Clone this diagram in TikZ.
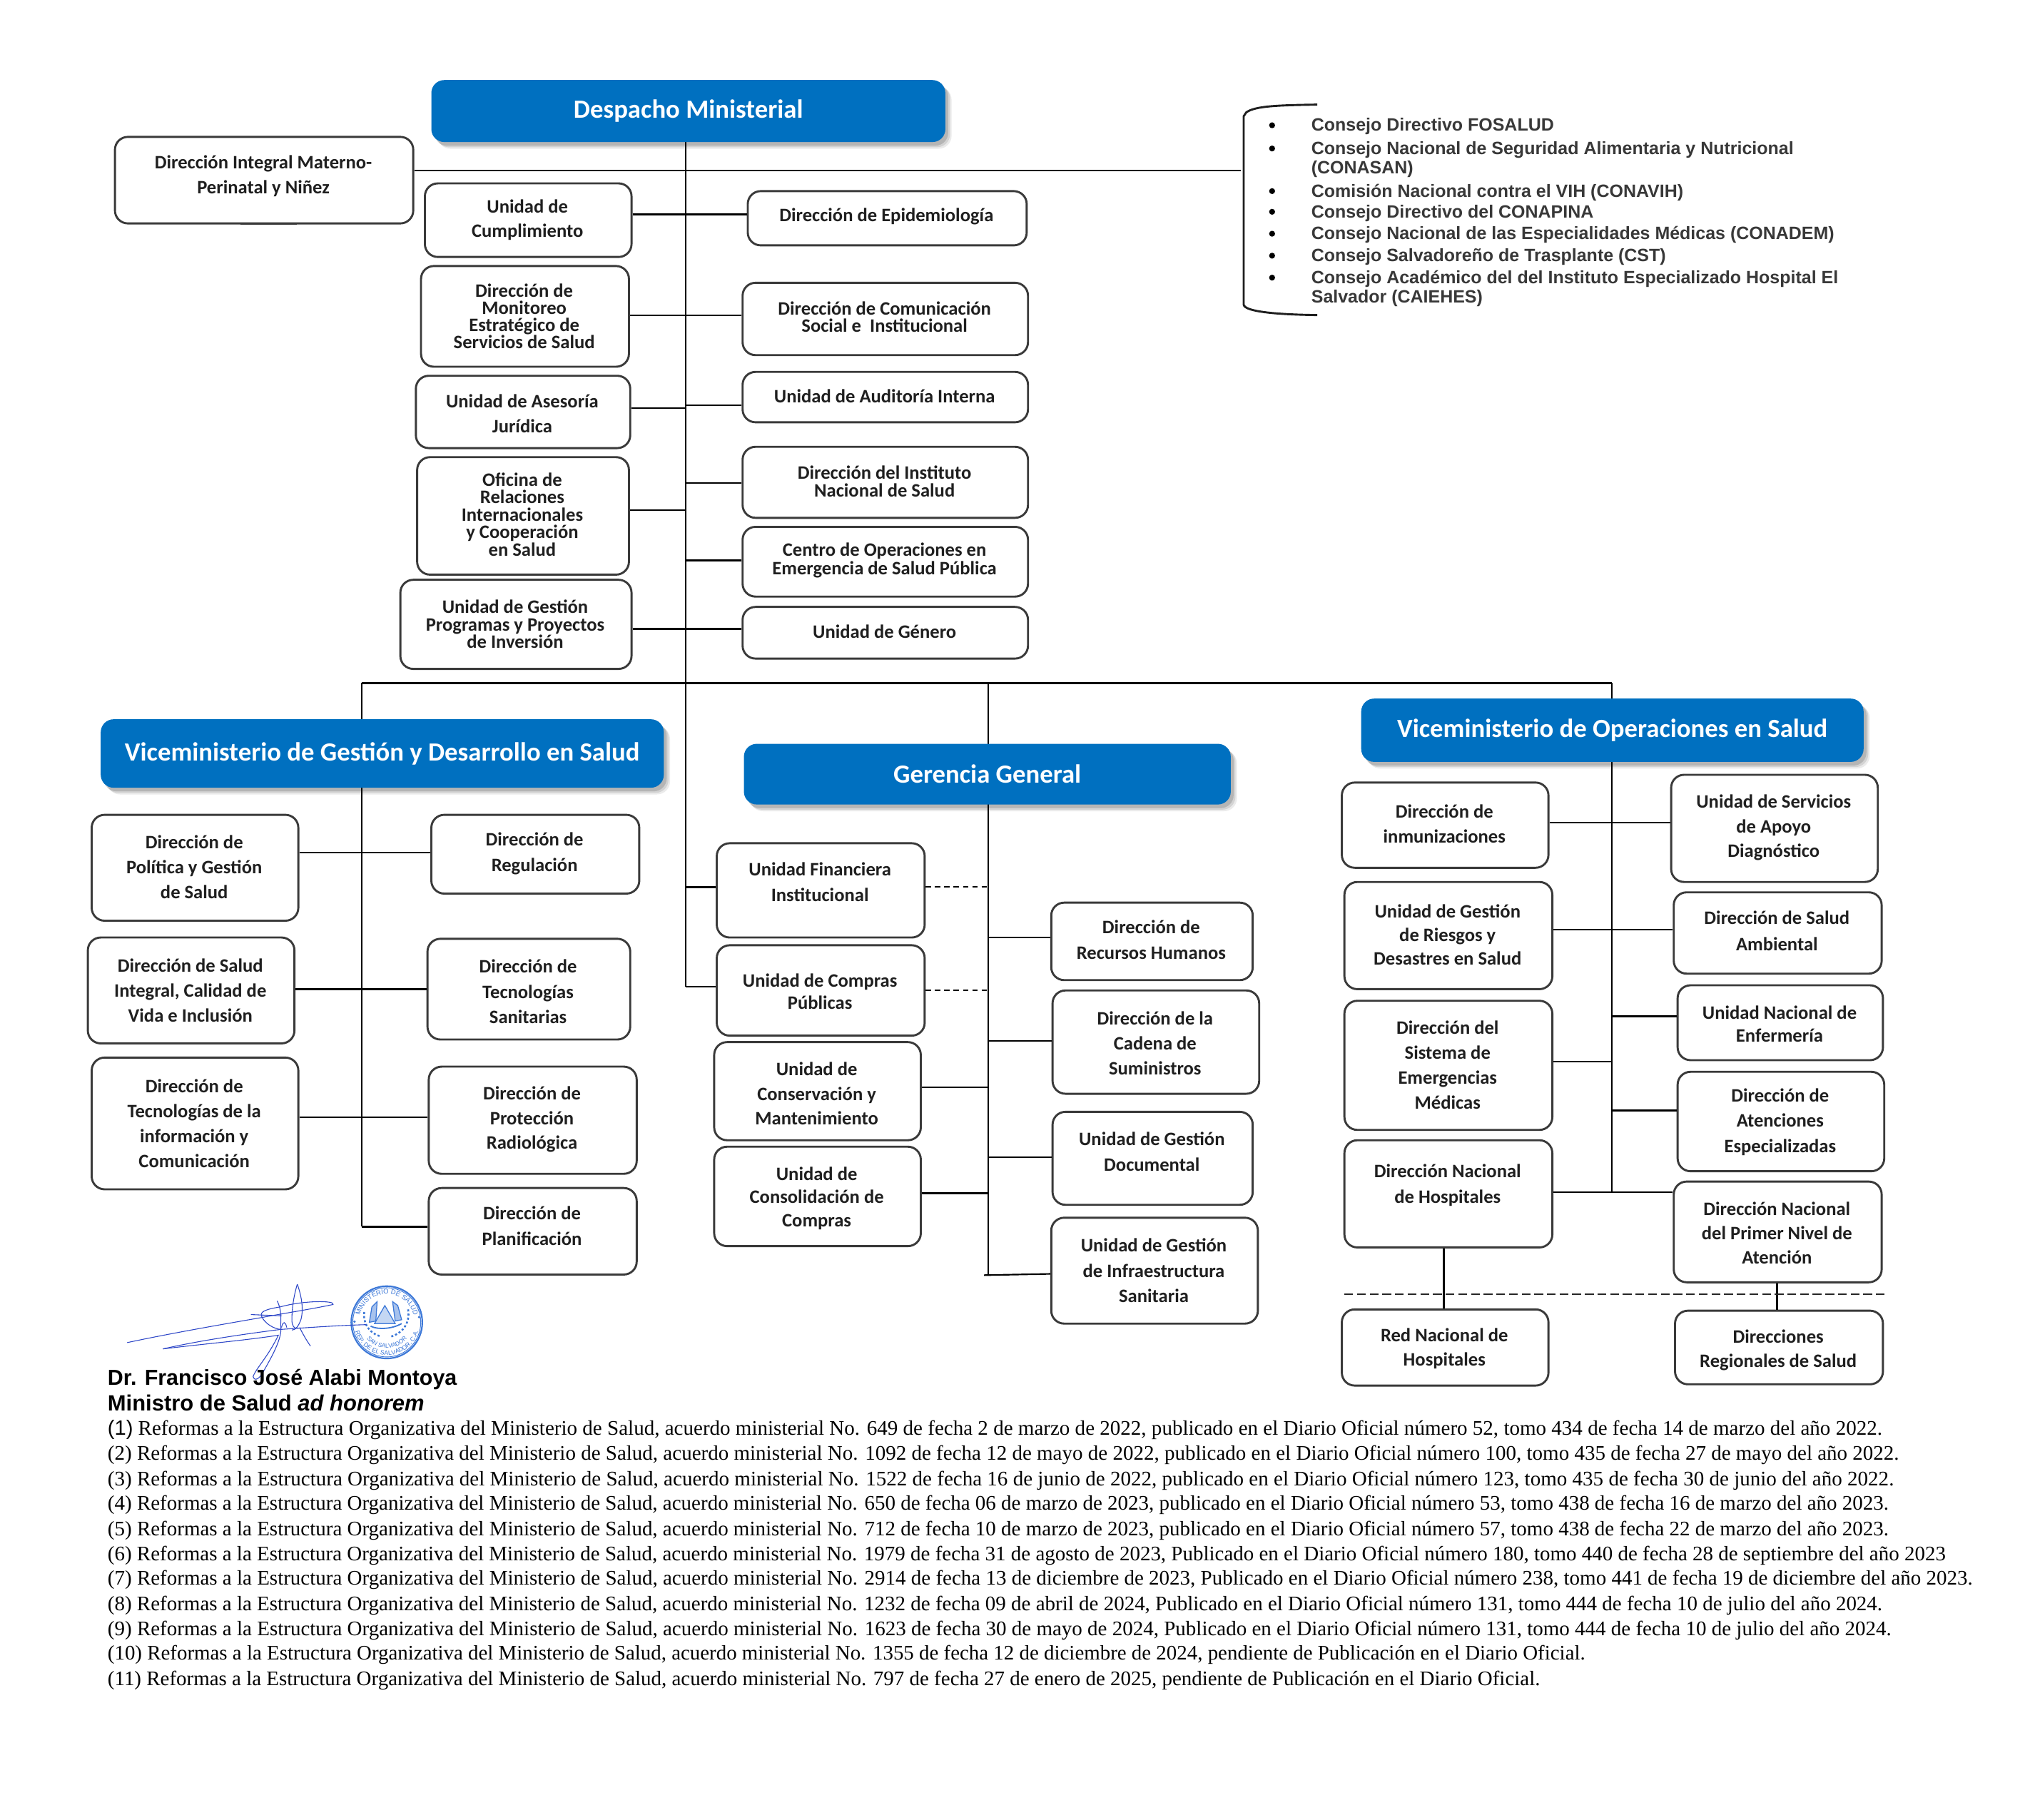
\documentclass[tikz,border=0pt]{standalone}
\usepackage{fontspec}
\usepackage{graphicx}
\setmainfont{Carlito}
\newfontfamily\arialf{Liberation Sans}
\newfontfamily\timesf{Liberation Serif}
\usetikzlibrary{shadows,calc,decorations.text}
\definecolor{mblue}{HTML}{0070C0}
\definecolor{ink}{HTML}{1F1F1F}
\definecolor{edge}{HTML}{3A3A3A}
\definecolor{sig}{HTML}{2F48C8}
\definecolor{seal}{HTML}{3C78D8}
\tikzset{
  x=0.5pt,y=-0.5pt,
  orgbox/.style={draw=edge,line width=0.8pt,rounded corners=5pt,fill=white,inner sep=0pt,text=ink,align=center},
  headbox/.style={fill=mblue,rounded corners=5pt,inner sep=0pt,text=white,
    general shadow={shadow xshift=2.4pt,shadow yshift=-2.6pt,opacity=0.08,fill=black},
    general shadow={shadow xshift=1.8pt,shadow yshift=-2pt,opacity=0.1,fill=black},
    general shadow={shadow xshift=1.1pt,shadow yshift=-1.4pt,opacity=0.14,fill=black}},
  conn/.style={draw=black,line width=0.6pt},
  dashconn/.style={draw=black,line width=0.55pt,dash pattern=on 2pt off 1.6pt},
  signline/.style={draw=sig,line width=0.3pt},
  notetext/.style={anchor=west,inner sep=0pt,text=black},
  listtext/.style={anchor=west,inner sep=0pt,text=black!78},
}
% #1 name, #2-#5 box corners, #6 text centre y, #7 leading (in reference units), #8 text
\newcommand\orgb[8]{%
  \pgfmathsetmacro\bw{(#4-#2)*0.5}\pgfmathsetmacro\bh{(#5-#3)*0.5}%
  \pgfmathsetmacro\bo{((#5+#3)/2-#6)*0.5}\pgfmathsetmacro\bl{#7*0.5}%
  \node[orgbox,minimum width=\bw pt,minimum height=\bh pt] (#1) at ({(#2+#4)/2},{(#3+#5)/2})
    {\fontsize{7.35}{\bl}\bfseries\selectfont\hspace*{-0.6pt}\raisebox{\dimexpr\bo pt-2.2pt\relax}[0pt][0pt]{$\vcenter{\baselineskip=\bl pt\lineskiplimit=-100pt\lineskip=0pt\let\\\cr\halign{\hfil##\hfil\cr #8\crcr}}$}};}
\newcommand\headb[6]{%
  \pgfmathsetmacro\bw{(#4-#2)*0.5}\pgfmathsetmacro\bh{(#5-#3)*0.5}%
  \node[headbox,minimum width=\bw pt,minimum height=\bh pt,font=\fontsize{10.15}{12}\bfseries\selectfont] (#1) at ({(#2+#4)/2},{(#3+#5)/2}) {#6};}
% horizontal connector between two nodes at height y
\newcommand\hconn[3]{\draw[conn] (#1 |- 0,#3) -- (#2 |- 0,#3);}
\newcommand\noteline[3]{\node[notetext] (note#2) at (83,#2+1.5) {\resizebox{#1pt}{!}{\timesf\fontsize{7.9}{9}\selectfont #3}};}
\begin{document}
\begin{tikzpicture}
\useasboundingbox (0,0) rectangle (1568,1409);
\fill[white] (0,0) rectangle (1568,1409);

% bus coordinates
\coordinate (busM) at (531,529);
\coordinate (busL) at (280,529);
\coordinate (busC) at (765,529);
\coordinate (busR) at (1248,529);
\coordinate (botM) at (531,764);
\coordinate (botL) at (280,950);
\coordinate (botC) at (765,987);
\coordinate (botR) at (1248,923);
\coordinate (topM) at (531,100);
\coordinate (brk) at (961,132);
\coordinate (dashL) at (1041,1002);
\coordinate (dashR) at (1459,1002);

% trunk lines
\draw[conn] (topM) -- (botM);
\draw[conn] (busL) -- (busR);
\draw[conn] (busL) -- (botL);
\draw[conn] (busC) -- (botC);
\draw[conn] (busR) -- (botR);

% headers
\headb{despacho}{334}{62}{732}{110}{\raisebox{0.4pt}{Despacho Ministerial}}
\headb{vgestion}{78}{557}{514}{610}{\raisebox{0.4pt}{Viceministerio de Gestión y Desarrollo en Salud}}
\headb{gerencia}{576}{576}{953}{623}{Gerencia General}
\headb{voper}{1054}{541}{1443}{590}{Viceministerio de Operaciones en Salud}
\draw[conn] (despacho.south -| topM) -- ++(0,2);

% top left
\orgb{dimp}{89}{106}{320}{173}{135.5}{19}{Dirección Integral Materno-\\Perinatal y Niñez}
\orgb{cumpl}{329}{142}{489}{199}{169.5}{19}{Unidad de\\Cumplimiento}
\orgb{monit}{326}{206}{487}{284}{244}{13.4}{Dirección de\\Monitoreo\\Estratégico de\\Servicios de Salud}
\orgb{aseso}{322}{291}{488}{347}{319.5}{19.5}{Unidad de Asesoría\\Jurídica}
\orgb{ofic}{323}{354}{487}{445}{397.5}{13.6}{Oficina de\\Relaciones\\Internacionales\\y Cooperación\\en Salud}
\orgb{ugp}{310}{449}{489}{518}{482.5}{13.5}{Unidad de Gestión\\Programas y Proyectos\\de Inversión}
% top right
\orgb{epid}{579}{148}{795}{190}{166.5}{14}{Dirección de Epidemiología}
\orgb{comun}{575}{219}{796}{275}{244.5}{13.5}{Dirección de Comunicación\\Social e\ \ Institucional}
\orgb{audit}{575}{288}{796}{327}{306}{14}{Unidad de Auditoría Interna}
\orgb{ins}{575}{346}{796}{401}{372}{14}{Dirección del Instituto\\Nacional de Salud}
\orgb{coe}{575}{408}{796}{462}{433}{14}{Centro de Operaciones en\\Emergencia de Salud Pública}
\orgb{genero}{575}{470}{796}{510}{488}{14}{Unidad de Género}

% left group
\orgb{polit}{71}{631}{231}{713}{670.5}{19.5}{Dirección de\\Política y Gestión\\de Salud}
\orgb{regul}{334}{631}{495}{692}{660}{20}{Dirección de\\Regulación}
\orgb{saludi}{68}{726}{228}{808}{766}{19.5}{Dirección de Salud\\Integral, Calidad de\\Vida e Inclusión}
\orgb{tecsan}{331}{727}{488}{805}{767}{19.5}{Dirección de\\Tecnologías\\Sanitarias}
\orgb{tecinf}{71}{819}{231}{921}{869}{19.3}{Dirección de\\Tecnologías de la\\información y\\Comunicación}
\orgb{protec}{332}{826}{493}{909}{866}{19}{Dirección de\\Protección\\Radiológica}
\orgb{planif}{332}{920}{493}{987}{948.5}{19.5}{Dirección de\\Planificación}

% centre group
\orgb{finan}{555}{653}{716}{726}{682}{20}{Unidad Financiera\\Institucional}
\orgb{compras}{555}{732}{716}{802}{767}{17.5}{Unidad de Compras\\Públicas}
\orgb{conserv}{553}{807}{713}{883}{846}{19}{Unidad de\\Conservación y\\Mantenimiento}
\orgb{consol}{553}{888}{713}{965}{927}{18}{Unidad de\\Consolidación de\\Compras}
\orgb{rrhh}{814}{699}{970}{759}{727}{20}{Dirección de\\Recursos Humanos}
\orgb{cadena}{815}{767}{975}{847}{807}{19.5}{Dirección de la\\Cadena de\\Suministros}
\orgb{docum}{815}{861}{970}{933}{891}{20}{Unidad de Gestión\\Documental}
\orgb{infra}{814}{943}{974}{1025}{983}{19.5}{Unidad de Gestión\\de Infraestructura\\Sanitaria}

% right group
\orgb{inmun}{1039}{606}{1199}{672}{637}{19}{Dirección de\\inmunizaciones}
\orgb{servi}{1294}{600}{1454}{683}{640}{19}{Unidad de Servicios\\de Apoyo\\Diagnóstico}
\orgb{riesg}{1041}{683}{1202}{766}{723}{18.5}{Unidad de Gestión\\de Riesgos y\\Desastres en Salud}
\orgb{ambi}{1296}{691}{1457}{754}{720}{20}{Dirección de Salud\\Ambiental}
\orgb{enfer}{1299}{763}{1458}{821}{792}{18}{Unidad Nacional de\\Enfermería}
\orgb{siste}{1041}{775}{1202}{875}{824}{19.3}{Dirección del\\Sistema de\\Emergencias\\Médicas}
\orgb{atenc}{1299}{830}{1459}{907}{868}{19.5}{Dirección de\\Atenciones\\Especializadas}
\orgb{hosp}{1041}{883}{1202}{966}{917}{20}{Dirección Nacional\\de Hospitales}
\orgb{primer}{1296}{915}{1457}{993}{954}{19}{Dirección Nacional\\del Primer Nivel de\\Atención}
\orgb{red}{1039}{1014}{1199}{1073}{1043.5}{19}{Red Nacional de\\Hospitales}
\orgb{regio}{1297}{1015}{1458}{1072}{1044.5}{19}{Direcciones\\Regionales de Salud}

% connectors: top
\hconn{dimp.east}{brk}{132}
\hconn{cumpl.east}{epid.west}{166}
\hconn{monit.east}{comun.west}{244}
\hconn{aseso.east}{topM}{316}
\hconn{topM}{audit.west}{314}
\hconn{ofic.east}{topM}{395}
\hconn{topM}{ins.west}{374}
\hconn{topM}{coe.west}{434}
\hconn{ugp.east}{genero.west}{487}
% left
\hconn{polit.east}{regul.west}{660}
\hconn{saludi.east}{tecsan.west}{766}
\hconn{tecinf.east}{protec.west}{865}
\hconn{botL}{planif.west}{950}
% centre
\hconn{topM}{finan.west}{687}
\hconn{topM}{compras.west}{764}
\draw[dashconn] (finan.east |- 0,687) -- (busC |- 0,687);
\draw[dashconn] (compras.east |- 0,767) -- (busC |- 0,767);
\hconn{conserv.east}{busC}{842}
\hconn{consol.east}{busC}{924}
\hconn{busC}{rrhh.west}{726}
\hconn{busC}{cadena.west}{806}
\hconn{busC}{docum.west}{896}
\draw[conn] (762,987.5) -- (infra.west |- 0,986.5);
% right
\hconn{inmun.east}{servi.west}{637}
\hconn{riesg.east}{ambi.west}{720}
\hconn{busR}{enfer.west}{787}
\hconn{siste.east}{busR}{822}
\hconn{busR}{atenc.west}{860}
\hconn{hosp.east}{primer.west}{923}
\draw[conn] (red.north -| 1118,0) -- (hosp.south -| 1118,0);
\draw[conn] (primer.south -| 1376,0) -- (regio.north -| 1376,0);
\draw[draw=black!85,line width=0.6pt,dash pattern=on 3.4pt off 1.5pt] (dashL) -- (dashR);

% small stub under the first box
\draw[draw=edge,line width=0.6pt] (186,173.5) -- (230,173.5);

% bracket and list of councils
\draw[draw=ink,line width=0.8pt] (1020,81) .. controls (990,81.5) and (972,82) .. (965,87) -- (963,90) -- (963,236) .. controls (964,241) and (985,243.5) .. (1020,244);
\foreach \yy in {97,115,148,164,181,198,215} \fill[black] (985,\yy) circle (1.15pt);
\begin{scope}[font=\arialf\bfseries\fontsize{6.9}{8}\selectfont]
\node[listtext] (l1) at (1015,98) {Consejo Directivo FOSALUD};
\node[listtext] (l2) at (1015,116) {Consejo Nacional de Seguridad Alimentaria y Nutricional};
\node[listtext] (l3) at (1015,131) {(CONASAN)};
\node[listtext] (l4) at (1015,149) {Comisión Nacional contra el VIH (CONAVIH)};
\node[listtext] (l5) at (1015,165) {Consejo Directivo del CONAPINA};
\node[listtext] (l6) at (1015,182) {Consejo Nacional de las Especialidades Médicas (CONADEM)};
\node[listtext] (l7) at (1015,199) {Consejo Salvadoreño de Trasplante (CST)};
\node[listtext] (l8) at (1015,216) {Consejo Académico del del Instituto Especializado Hospital El};
\node[listtext] (l9) at (1015,231) {Salvador (CAIEHES)};
\end{scope}

% seal
\begin{scope}[draw=seal,text=seal]
\draw[line width=0.6pt] (299.5,1024) ellipse (27.5 and 28);
\draw[line width=0.25pt] (299.5,1024) ellipse (26.3 and 26.8);
% emblem: triangle, flags and wreath
\draw[line width=0.35pt,fill=seal!30] (298,1011) -- (306,1025) -- (290,1025) -- cycle;
\draw[line width=0.35pt,fill=seal!45] (288,1012) -- (292,1008) -- (291,1023) -- (286,1024) -- cycle;
\draw[line width=0.35pt,fill=seal!45] (308,1011) -- (304,1008) -- (306,1023) -- (311,1022) -- cycle;
\draw[line width=0.7pt,dash pattern=on 0.8pt off 0.8pt] (282,1016) .. controls (281,1026) and (287,1033) .. (295,1035);
\draw[line width=0.7pt,dash pattern=on 0.8pt off 0.8pt] (316,1014) .. controls (318,1026) and (310,1033) .. (303,1035);
\draw[line width=0.5pt] (287,1027) .. controls (293,1030) and (304,1029) .. (311,1025);
\path[postaction={decorate},decoration={text along path,text={|\arialf\fontsize{2.6}{3}\selectfont\color{seal}|MINISTERIO DE SALUD},text align=center}] ([shift={(185:21.5 and 22)}]299.5,1024) arc[start angle=185,end angle=355,x radius=21.5,y radius=22];
\path[postaction={decorate},decoration={text along path,text={|\arialf\fontsize{2.4}{3}\selectfont\color{seal}|REP. DE EL SALVADOR, C.A.},text align=center}] ([shift={(178:25.5 and 25.5)}]299.5,1024) arc[start angle=178,end angle=2,x radius=25.5,y radius=25.5];
\path[postaction={decorate},decoration={text along path,text={|\arialf\fontsize{2.3}{3}\selectfont\color{seal}|SAN SALVADOR},text align=center}] ([shift={(165:20 and 20)}]299.5,1024) arc[start angle=165,end angle=15,x radius=20,y radius=20];
\fill[seal] (274.5,1023.5) circle (0.5pt);
\fill[seal] (324.5,1020) circle (0.5pt);
\end{scope}

% signature
\draw[signline] (98.5,1039.7) .. controls (135,1032) and (170,1026) .. (202.6,1020.3) .. controls (220,1017) and (240,1014) .. (257.9,1010.2) .. controls (260,1007) and (235,1007) .. (217.3,1012) .. controls (205,1014) and (201,1016) .. (202.6,1019.4) .. controls (205,1025) and (212,1029) .. (217.3,1029.5) .. controls (240,1028) and (260,1026.5) .. (283.7,1025.8);
\draw[signline] (194.3,1018) -- (218,1019);
\draw[signline] (126.2,1044.6) .. controls (155,1038) and (190,1033) .. (217.3,1029.5);
\draw[signline] (126.2,1044.6) .. controls (155,1041) and (190,1038) .. (215.5,1034) .. controls (208,1050) and (198,1060) .. (196,1066) .. controls (197,1070) and (201,1068) .. (204,1062) .. controls (212,1048) and (219,1035) .. (217.3,1026) .. controls (218,1018) and (217,1012) .. (214.6,1007.4);
\draw[signline] (230.2,994.5) .. controls (227,1005) and (226,1015) .. (226,1022) .. controls (226,1027) and (228,1029) .. (230.2,1028.6);
\draw[signline] (230.2,994.5) .. controls (234,1005) and (235,1015) .. (233,1022) .. controls (231,1027) and (229,1030) .. (226,1030);
\draw[signline] (232,1028) .. controls (235,1034) and (238,1039) .. (240.4,1042.4);
\draw[signline] (218,1028) .. controls (219,1023) and (221,1023) .. (222,1028);

% minister
\node[notetext,font=\arialf\bfseries\fontsize{8.4}{10}\selectfont] (sig1) at (83,1068) {Dr. Francisco José Alabi Montoya};
\node[notetext,font=\arialf\bfseries\fontsize{8.55}{10}\selectfont] (sig2) at (83,1086.2) {Ministro de Salud \textit{ad honorem}};

% notes
\noteline{687}{1106}{{\arialf (1)} Reformas a la Estructura Organizativa del Ministerio de Salud, acuerdo ministerial No. 649 de fecha 2 de marzo de 2022, publicado en el Diario Oficial número 52, tomo 434 de fecha 14 de marzo del año 2022.}
\noteline{693.5}{1125.5}{(2) Reformas a la Estructura Organizativa del Ministerio de Salud, acuerdo ministerial No. 1092 de fecha 12 de mayo de 2022, publicado en el Diario Oficial número 100, tomo 435 de fecha 27 de mayo del año 2022.}
\noteline{691.5}{1145}{(3) Reformas a la Estructura Organizativa del Ministerio de Salud, acuerdo ministerial No. 1522 de fecha 16 de junio de 2022, publicado en el Diario Oficial número 123, tomo 435 de fecha 30 de junio del año 2022.}
\noteline{689.5}{1164}{(4) Reformas a la Estructura Organizativa del Ministerio de Salud, acuerdo ministerial No. 650 de fecha 06 de marzo de 2023, publicado en el Diario Oficial número 53, tomo 438 de fecha 16 de marzo del año 2023.}
\noteline{689.5}{1184}{(5) Reformas a la Estructura Organizativa del Ministerio de Salud, acuerdo ministerial No. 712 de fecha 10 de marzo de 2023, publicado en el Diario Oficial número 57, tomo 438 de fecha 22 de marzo del año 2023.}
\noteline{711.5}{1203}{(6) Reformas a la Estructura Organizativa del Ministerio de Salud, acuerdo ministerial No. 1979 de fecha 31 de agosto de 2023, Publicado en el Diario Oficial número 180, tomo 440 de fecha 28 de septiembre del año 2023}
\noteline{722}{1222}{(7) Reformas a la Estructura Organizativa del Ministerio de Salud, acuerdo ministerial No. 2914 de fecha 13 de diciembre de 2023, Publicado en el Diario Oficial número 238, tomo 441 de fecha 19 de diciembre del año 2023.}
\noteline{687}{1242}{(8) Reformas a la Estructura Organizativa del Ministerio de Salud, acuerdo ministerial No. 1232 de fecha 09 de abril de 2024, Publicado en el Diario Oficial número 131, tomo 444 de fecha 10 de julio del año 2024.}
\noteline{690.5}{1261}{(9) Reformas a la Estructura Organizativa del Ministerio de Salud, acuerdo ministerial No. 1623 de fecha 30 de mayo de 2024, Publicado en el Diario Oficial número 131, tomo 444 de fecha 10 de julio del año 2024.}
\noteline{572}{1280}{(10) Reformas a la Estructura Organizativa del Ministerio de Salud, acuerdo ministerial No. 1355 de fecha 12 de diciembre de 2024, pendiente de Publicación en el Diario Oficial.}
\noteline{554.5}{1300}{(11) Reformas a la Estructura Organizativa del Ministerio de Salud, acuerdo ministerial No. 797 de fecha 27 de enero de 2025, pendiente de Publicación en el Diario Oficial.}
\end{tikzpicture}
\end{document}
